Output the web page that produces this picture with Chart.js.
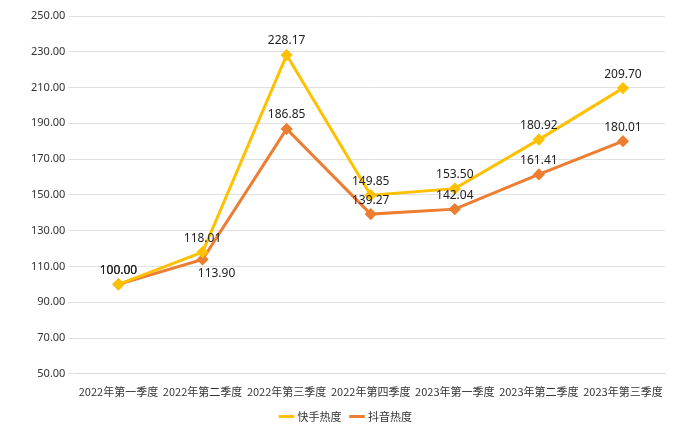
<!DOCTYPE html>
<html>
<head>
<meta charset="utf-8">
<script src="https://cdn.jsdelivr.net/npm/chart.js@4"></script>
<style>
  html, body { margin: 0; padding: 0; background: #fff; }
  #wrap { width: 700px; height: 434px; }
</style>
</head>
<body>
<div id="wrap"><canvas id="chart"></canvas></div>
<script>
const categories = ['2022年第一季度', '2022年第二季度', '2022年第三季度', '2022年第四季度', '2023年第一季度', '2023年第二季度', '2023年第三季度'];
const kuaishou = [100.00, 118.01, 228.17, 149.85, 153.50, 180.92, 209.70];
const douyin = [100.00, 113.90, 186.85, 139.27, 142.04, 161.41, 180.01];

// label offsets: negative = above the point
const douyinOffsets = [-14, 14, -14, -14, -14, -14, -14];

const valueLabels = {
    id: 'valueLabels',
    afterDatasetsDraw(chart) {
        const ctx = chart.ctx;
        ctx.save();
        ctx.font = '12px "Noto Sans", sans-serif';
        ctx.fillStyle = '#222';
        ctx.textAlign = 'center';
        ctx.textBaseline = 'middle';
        chart.data.datasets.forEach((ds, i) => {
            chart.getDatasetMeta(i).data.forEach((pt, j) => {
                let dy = i === 0 ? -14 : douyinOffsets[j];
                let dx = (i === 1 && j === 1) ? 14 : 0;
                ctx.fillText(ds.data[j].toFixed(2), pt.x + dx, pt.y + dy);
            });
        });
        ctx.restore();
    }
};

new Chart(document.getElementById('chart'), {
    type: 'line',
    data: {
        labels: categories,
        datasets: [{
            label: '快手热度',
            data: kuaishou,
            borderColor: '#FFC000',
            backgroundColor: '#FFC000',
            borderWidth: 3,
            pointStyle: 'rectRot',
            pointRadius: 4,
            tension: 0
        }, {
            label: '抖音热度',
            data: douyin,
            borderColor: '#ED7D31',
            backgroundColor: '#ED7D31',
            borderWidth: 3,
            pointStyle: 'rectRot',
            pointRadius: 4,
            tension: 0
        }]
    },
    options: {
        responsive: true,
        maintainAspectRatio: false,
        animation: false,
        layout: { padding: { left: 28, right: 35, top: 16, bottom: 2 } },
        plugins: {
            legend: {
                position: 'bottom',
                labels: {
                    usePointStyle: true,
                    pointStyle: 'line',
                    font: { size: 11, family: '"Noto Sans CJK SC", sans-serif' },
                    color: '#333'
                }
            },
            tooltip: { enabled: false }
        },
        scales: {
            x: {
                offset: true,
                grid: { display: false },
                border: { color: '#d9d9d9' },
                ticks: { font: { size: 11, family: '"Noto Sans CJK SC", sans-serif' }, color: '#333', maxRotation: 0 }
            },
            y: {
                min: 50,
                max: 250,
                border: { display: false },
                grid: { color: '#e0e0e0' },
                ticks: {
                    stepSize: 20,
                    font: { size: 11, family: '"Noto Sans", sans-serif' },
                    color: '#333',
                    callback: v => v.toFixed(2)
                }
            }
        }
    },
    plugins: [valueLabels]
});
</script>
</body>
</html>
